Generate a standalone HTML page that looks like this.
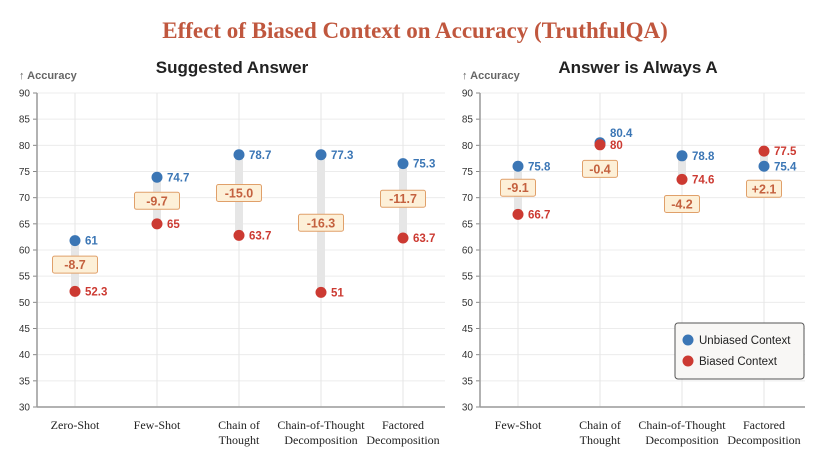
<!DOCTYPE html>
<html><head><meta charset="utf-8"><style>
body{margin:0;background:#fff;width:830px;height:461px;overflow:hidden}
svg text{font-family:"Liberation Sans",sans-serif}
</style></head><body>
<svg id="c" width="830" height="461">
<text x="415" y="38" text-anchor="middle" style="font-family:'Liberation Serif',serif;font-weight:bold;font-size:23px;fill:#c0573e">Effect of Biased Context on Accuracy (TruthfulQA)</text>
</svg>
<script>
const leftCategories=[["Zero-Shot"],["Few-Shot"],["Chain of","Thought"],["Chain-of-Thought","Decomposition"],["Factored","Decomposition"]];
const leftUnbiased=[61.8,73.9,78.2,78.2,76.5];
const leftBiased=[52.1,65,62.8,51.9,62.3];
const leftUnbiasedLabels=["61","74.7","78.7","77.3","75.3"];
const leftBiasedLabels=["52.3","65","63.7","51","63.7"];
const leftDeltaLabels=["-8.7","-9.7","-15.0","-16.3","-11.7"];
const leftDeltaPos=[57.2,69.4,70.9,65.2,69.8];
const rightCategories=[["Few-Shot"],["Chain of","Thought"],["Chain-of-Thought","Decomposition"],["Factored","Decomposition"]];
const rightUnbiased=[76,80.5,78,76];
const rightBiased=[66.8,80.1,73.5,78.9];
const rightUnbiasedLabels=["75.8","80.4","78.8","75.4"];
const rightBiasedLabels=["66.7","80","74.6","77.5"];
const rightDeltaLabels=["-9.1","-0.4","-4.2","+2.1"];
const rightDeltaPos=[71.9,75.5,68.8,71.7];
const yTicks=[30,35,40,45,50,55,60,65,70,75,80,85,90];

const svg=document.getElementById('c');
const NS='http://www.w3.org/2000/svg';
function mk(tag,attrs,parent,text){const e=document.createElementNS(NS,tag);for(const k in attrs)e.setAttribute(k,attrs[k]);if(text!==undefined)e.textContent=text;(parent||svg).appendChild(e);return e;}
const BLUE='#3b76b5',RED='#cc3a32';

function panel(cfg){
  const g=mk('g',{});
  
  
  const y=v=>407-(v-30)*(314/60);
  const n=cfg.cats.length;
  const x=i=>cfg.x0+cfg.pad+i*cfg.step;
  yTicks.forEach(t=>{
    const gl=mk('line',{x1:cfg.x0,x2:cfg.x1,y1:y(t),y2:y(t),stroke:'#ececec','stroke-width':1},g);
    
    
    mk('line',{x1:cfg.x0-4,x2:cfg.x0,y1:y(t),y2:y(t),stroke:'#888'},g);
    const tl=mk('text',{x:cfg.x0-7,y:y(t)+3.5,'text-anchor':'end','font-size':10,fill:'#333'},g,t);
    
    
  });
  cfg.cats.forEach((c,i)=>{
    mk('line',{x1:x(i),x2:x(i),y1:y(90),y2:y(30),stroke:'#e6e6e6'},g);
    c.forEach((ln,j)=>{
      const t=mk('text',{x:x(i),y:429+j*15,'text-anchor':'middle','font-size':12,fill:'#222',style:"font-family:'Liberation Serif',serif"},g,ln);
      
      
    });
  });
  mk('line',{x1:cfg.x0,x2:cfg.x0,y1:y(90),y2:y(30),stroke:'#999','stroke-width':1.5},g);
  mk('line',{x1:cfg.x0,x2:cfg.x1,y1:y(30),y2:y(30),stroke:'#999','stroke-width':1.5},g);
  const yt=mk('text',{x:cfg.x0-18,y:79,'font-size':11,fill:'#666','font-weight':'bold'},g,'↑ Accuracy');
  
  
  const st=mk('text',{x:cfg.tx,y:73,'text-anchor':'middle','font-size':17,'font-weight':'bold',fill:'#222'},g,cfg.title);
  
  
  cfg.cats.forEach((c,i)=>{
    const ub=cfg.u[i],bb=cfg.b[i];
    const bar=mk('rect',{x:x(i)-4,y:y(Math.max(ub,bb)),width:8,height:Math.abs(y(ub)-y(bb)),fill:'#e6e6e6'},g);
    
    
    const bw=cfg.bw;
    const bx=mk('rect',{x:x(i)-bw/2,y:y(cfg.dp[i])-8.5,width:bw,height:17,rx:2,fill:'#fdf0d8',stroke:'#e0a06a','stroke-width':1},g);
    
    
    const dt=mk('text',{x:x(i),y:y(cfg.dp[i])+4.5,'text-anchor':'middle','font-size':12.5,'font-weight':'bold',fill:'#c4613f'},g,cfg.dl[i]);
    
    
    const up=ub>bb;
    [[ub,BLUE,cfg.ul[i],'unbiased',up?-0:0],[bb,RED,cfg.bl[i],'biased',0]].forEach(([v,col,lab,nm])=>{
      const d=mk('circle',{cx:x(i),cy:y(v),r:5.5,fill:col},g);
      
      
    });
    let uy=y(ub)+4,by=y(bb)+4;
    if(Math.abs(uy-by)<14){ if(ub>bb){uy=by-12;}else{uy=by+15;} }
    const t1=mk('text',{x:x(i)+10,y:uy,'font-size':11.5,'font-weight':'bold',fill:BLUE},g,cfg.ul[i]);
    
    
    const t2=mk('text',{x:x(i)+10,y:by,'font-size':11.5,'font-weight':'bold',fill:RED},g,cfg.bl[i]);
    
    
  });
}
panel({name:'suggested-answer-panel',title:'Suggested Answer',tx:232,cats:leftCategories,x0:37,x1:445,pad:38,step:82,u:leftUnbiased,b:leftBiased,ul:leftUnbiasedLabels,bl:leftBiasedLabels,dl:leftDeltaLabels,dp:leftDeltaPos,bw:45});
panel({name:'always-a-panel',title:'Answer is Always A',tx:638,cats:rightCategories,x0:480,x1:805,pad:38,step:82,u:rightUnbiased,b:rightBiased,ul:rightUnbiasedLabels,bl:rightBiasedLabels,dl:rightDeltaLabels,dp:rightDeltaPos,bw:35});

const lg=mk('g',{});


mk('rect',{x:675,y:323,width:129,height:56,rx:3,fill:'#f8f7f5',stroke:'#555','stroke-width':1},lg);
[['Unbiased Context',BLUE,340],['Biased Context',RED,361]].forEach(([t,c,yy])=>{
  const e=mk('g',{},lg);
  
  
  mk('circle',{cx:688,cy:yy,r:5.5,fill:c},e);
  mk('text',{x:699,y:yy+4,'font-size':11.5,fill:'#222'},e,t);
});
</script>
</body></html>
